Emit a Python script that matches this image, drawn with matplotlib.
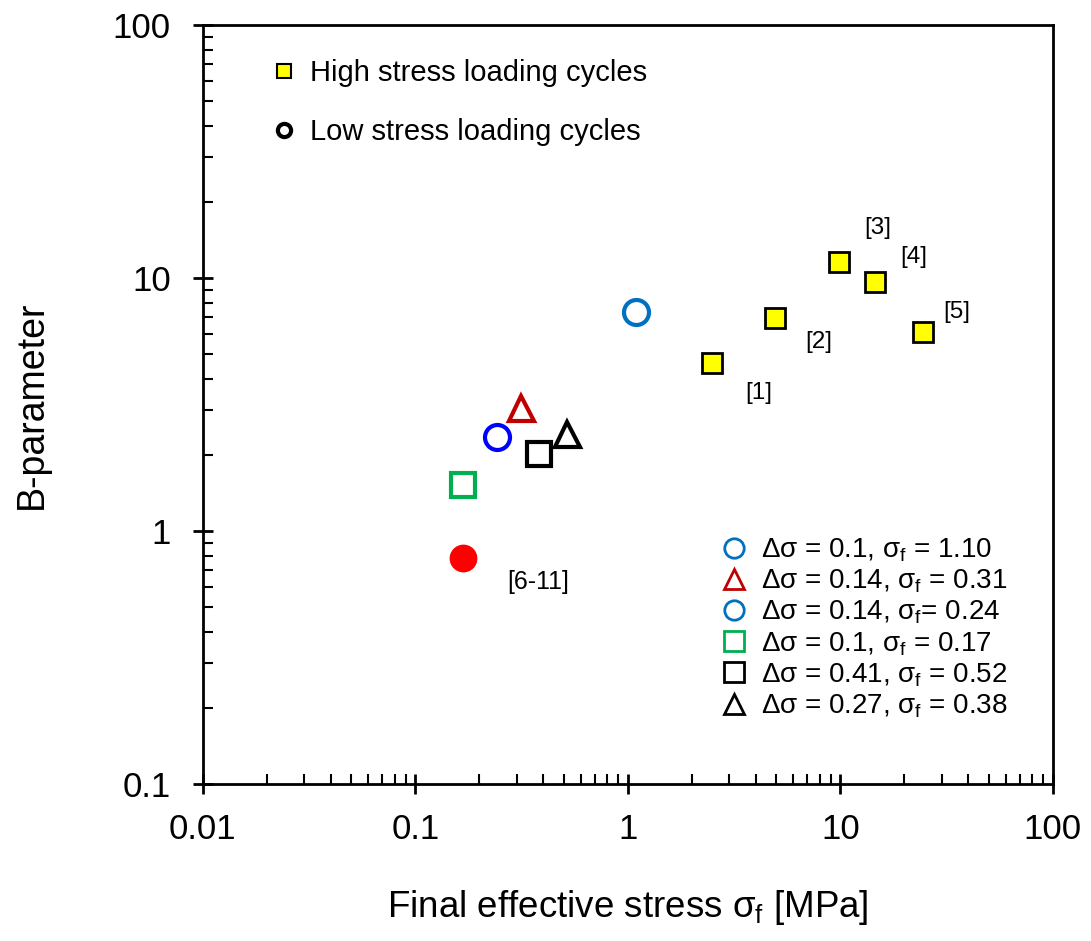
import matplotlib
matplotlib.use("Agg")
import matplotlib.pyplot as plt
from matplotlib.lines import Line2D
from matplotlib.ticker import LogLocator, NullFormatter, FixedLocator, FixedFormatter

plt.rcParams['font.family'] = ['Liberation Sans', 'DejaVu Sans']
plt.rcParams['mathtext.fontset'] = 'custom'
plt.rcParams['mathtext.rm'] = 'Liberation Sans'
plt.rcParams['mathtext.it'] = 'Liberation Sans'
plt.rcParams['mathtext.sf'] = 'Liberation Sans'

# High stress loading cycles
high_x = [2.48, 4.95, 9.9, 14.6, 24.5]
high_y = [4.6, 6.95, 11.6, 9.65, 6.12]
high_labels = ['[1]', '[2]', '[3]', '[4]', '[5]']

# Low stress loading cycles (Δσ, σf, B)
low_labels = [r'$\Delta\sigma$ = 0.1, $\sigma_\mathrm{f}$ = 1.10',
              r'$\Delta\sigma$ = 0.14, $\sigma_\mathrm{f}$ = 0.31',
              r'$\Delta\sigma$ = 0.14, $\sigma_\mathrm{f}$= 0.24',
              r'$\Delta\sigma$ = 0.1, $\sigma_\mathrm{f}$ = 0.17',
              r'$\Delta\sigma$ = 0.41, $\sigma_\mathrm{f}$ = 0.52',
              r'$\Delta\sigma$ = 0.27, $\sigma_\mathrm{f}$ = 0.38']
low_x = [1.09, 0.315, 0.243, 0.168, 0.382, 0.518]
low_y = [7.34, 3.06, 2.35, 1.52, 2.01, 2.42]
low_markers = ['o', '^', 'o', 's', 's', '^']
low_colors = ['#0070C0', '#C00000', '#0000FF', '#00B050', '#000000', '#000000']
low_legend_colors = ['#0070C0', '#C00000', '#0070C0', '#00B050', '#000000', '#000000']

# Literature data [6-11]
lit_x = [0.168]
lit_y = [0.78]
lit_label = '[6-11]'

fig = plt.figure(figsize=(10.91, 9.41), dpi=100)
ax = fig.add_axes([0.186, 0.1668, 0.779, 0.8066])
ax.set_xscale('log')
ax.set_yscale('log')
ax.set_xlim(0.01, 100)
ax.set_ylim(0.1, 100)

ax.plot(high_x, high_y, 's', ms=15, mfc='#FFFF00', mec='black', mew=2, ls='none', zorder=3)
label_offsets = [(47, -30), (43, -24), (38, 34), (38, 25), (34, 20)]
for x, y, t, (dx, dy) in zip(high_x, high_y, high_labels, label_offsets):
    ax.annotate(t, (x, y), xytext=(dx, dy), textcoords='offset pixels',
                fontsize=17.5, ha='center', va='center')

for x, y, m, c in zip(low_x, low_y, low_markers, low_colors):
    ms = 18 if m != 's' else 17
    ax.plot([x], [y], m, ms=ms, mfc='none', mec=c, mew=3, ls='none', zorder=3)

ax.plot(lit_x, lit_y, 'o', ms=19, mfc='#FF0000', mec='#FF0000', ls='none', zorder=3)
ax.annotate(lit_label, (lit_x[0], lit_y[0]), xytext=(75, -24), textcoords='offset pixels',
            fontsize=18, ha='center', va='center')

# legends
h1 = [Line2D([], [], marker='s', ls='none', ms=10, mfc='#FFFF00', mec='black', mew=1.5),
      Line2D([], [], marker='o', ls='none', ms=9.5, mfc='none', mec='black', mew=3)]
leg1 = ax.legend(h1, ['High stress loading cycles', 'Low stress loading cycles'],
                 loc='upper left', bbox_to_anchor=(0.071, 0.9705), frameon=False,
                 fontsize=21, handlelength=0.6, handletextpad=0.6, labelspacing=1.07,
                 borderaxespad=0)
ax.add_artist(leg1)

h2 = [Line2D([], [], marker=m, ls='none', ms=14, mfc='none', mec=c, mew=2)
      for m, c in zip(low_markers, low_legend_colors)]
ax.legend(h2, low_labels, loc='lower left', bbox_to_anchor=(0.599, 0.07), frameon=False,
          fontsize=20, handlelength=0.8, handletextpad=0.55, labelspacing=0.13,
          borderaxespad=0)

# ticks
ax.xaxis.set_major_locator(FixedLocator([0.01, 0.1, 1, 10, 100]))
ax.xaxis.set_major_formatter(FixedFormatter(['0.01', '0.1', '1', '10', '100']))
ax.yaxis.set_major_locator(FixedLocator([0.1, 1, 10, 100]))
ax.yaxis.set_major_formatter(FixedFormatter(['0.1', '1', '10', '100']))
ax.xaxis.set_minor_locator(LogLocator(base=10, subs=range(2, 10), numticks=20))
ax.yaxis.set_minor_locator(LogLocator(base=10, subs=range(2, 10), numticks=20))
ax.xaxis.set_minor_formatter(NullFormatter())
ax.yaxis.set_minor_formatter(NullFormatter())
ax.tick_params(which='major', direction='inout', length=14, width=2, labelsize=25)
ax.tick_params(axis='x', which='major', pad=14)
ax.tick_params(axis='y', which='major', pad=16)
ax.tick_params(which='minor', direction='in', length=7, width=1.5)
ax.tick_params(top=False, right=False, which='both')
for s in ax.spines.values():
    s.set_linewidth(2)

ax.set_xlabel(r'Final effective stress $\sigma_\mathrm{f}$ [MPa]', fontsize=26.5, labelpad=30)
ax.set_ylabel('B-parameter', fontsize=27, labelpad=45)

fig.savefig('out.png', dpi=100)
